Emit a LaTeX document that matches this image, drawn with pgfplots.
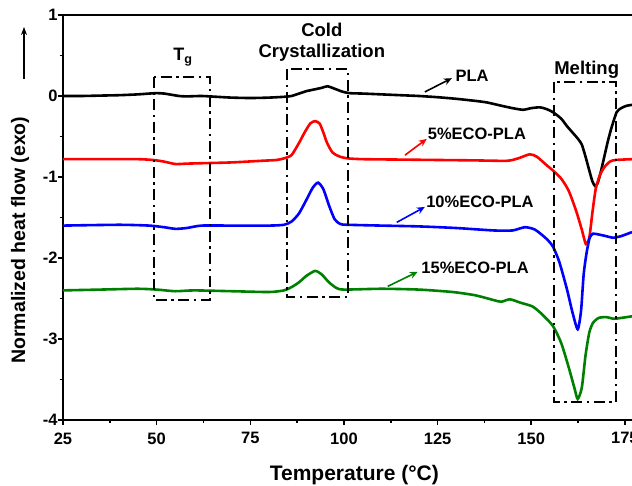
\documentclass[border=0pt]{standalone}
\usepackage{fontspec}
\setmainfont{Liberation Sans}
\usepackage{pgfplots}
\pgfplotsset{compat=1.18}
\usetikzlibrary{arrows.meta}
\definecolor{dgreen}{RGB}{0,128,0}
\begin{document}
\begin{tikzpicture}
\begin{axis}[
  at={(0,0)}, anchor=south west,
  width=569pt, height=405pt, scale only axis,
  xmin=25, xmax=176.9, ymin=-4, ymax=1,
  axis x line*=bottom, axis y line*=left,
  axis line style={line width=1.9pt, -},
  xtick={25,50,...,175}, minor x tick num=1,
  ytick={-4,-3,...,1}, minor y tick num=1,
  tick align=outside,
  major tick length=5pt, minor tick length=3pt,
  every tick/.style={black, line width=1.5pt},
  /pgf/number format/assume math mode=true,
  ticklabel style={font=\fontsize{16.5}{16}\selectfont\bfseries},
  xticklabel style={yshift=-4pt},
  yticklabel style={xshift=3pt},
  xlabel={Temperature (°C)},
  xlabel style={font=\fontsize{21}{21}\selectfont\bfseries, at={(axis description cs:0.512,-0.136)}, anchor=center},
  ylabel={Normalized heat flow (exo)},
  ylabel style={font=\fontsize{19.5}{20}\selectfont\bfseries, at={(axis description cs:-0.0756,0.444)}, anchor=center, rotate=0},
  every axis plot/.append style={line width=2.6pt, smooth, tension=0.4},
  clip=false,
]
% PLA
\addplot[black] coordinates {
(25,0) (30,0) (35,0.005) (40,0.01) (45,0.02) (48,0.03) (50,0.035) (52,0.03) (54,0.015) (56,0.0) (58,-0.005) (62,0) (66,-0.01) (70,-0.02) (75,-0.025) (80,-0.02) (84,-0.01) (86,0.0) (88,0.03) (90,0.06) (92,0.08) (94,0.1) (95.6,0.12) (97.5,0.09) (99.5,0.055) (101.5,0.035) (105,0.03) (110,0.02) (115,0.01) (120,0) (125,-0.015) (130,-0.035) (135,-0.06) (138.2,-0.08) (142,-0.12) (145,-0.15) (147.8,-0.17) (150,-0.15) (152.3,-0.14) (154,-0.16) (155.8,-0.2) (158,-0.28) (159.5,-0.37) (161,-0.45) (162.5,-0.53) (163.5,-0.6) (164.5,-0.75) (165.5,-0.92) (166.3,-1.05) (167,-1.11) (167.7,-1.08) (168.5,-0.95) (169.5,-0.75) (170.5,-0.55) (171.5,-0.38) (172.8,-0.2) (174,-0.15) (175.5,-0.12) (176.9,-0.11)
};
% 5%
\addplot[red] coordinates {
(25,-0.78) (35,-0.78) (45,-0.78) (49,-0.79) (52,-0.81) (55,-0.84) (58,-0.835) (62,-0.83) (70,-0.82) (78,-0.8) (82,-0.79) (84,-0.77) (86,-0.73) (88,-0.58) (89.5,-0.45) (91,-0.34) (92.3,-0.31) (93.5,-0.34) (94.5,-0.45) (95.5,-0.58) (97,-0.7) (99,-0.75) (101,-0.77) (105,-0.78) (115,-0.785) (125,-0.79) (135,-0.795) (143.5,-0.8) (146.5,-0.77) (149.6,-0.72) (151.5,-0.75) (154,-0.85) (155.8,-0.92) (158,-1.02) (160,-1.17) (162,-1.42) (163.5,-1.65) (164.6,-1.83) (165.5,-1.75) (166.3,-1.45) (167.2,-1.15) (168.3,-0.98) (169.5,-0.88) (171,-0.81) (172.5,-0.79) (176.9,-0.78)
};
% 10%
\addplot[blue] coordinates {
(25,-1.6) (40,-1.59) (48,-1.6) (52,-1.62) (55,-1.64) (58,-1.63) (62,-1.6) (70,-1.6) (80,-1.6) (84,-1.59) (86,-1.55) (88,-1.45) (90,-1.28) (91.7,-1.13) (93.1,-1.07) (94.5,-1.15) (96,-1.35) (97.5,-1.52) (99,-1.58) (101,-1.59) (110,-1.6) (120,-1.61) (130,-1.63) (140,-1.66) (145,-1.66) (148.3,-1.62) (151,-1.65) (154,-1.76) (155.8,-1.86) (157.5,-2.05) (159.5,-2.38) (161,-2.67) (162.4,-2.88) (163.3,-2.65) (164,-2.2) (164.8,-1.93) (165.6,-1.75) (166.5,-1.7) (168,-1.71) (170,-1.73) (171.8,-1.75) (174,-1.73) (176.9,-1.68)
};
% 15%
\addplot[dgreen] coordinates {
(25,-2.4) (35,-2.39) (45,-2.38) (50,-2.39) (55,-2.41) (60,-2.4) (70,-2.41) (80,-2.42) (84,-2.4) (86,-2.36) (88,-2.3) (90,-2.22) (92.3,-2.16) (94,-2.2) (96,-2.3) (98,-2.37) (100,-2.39) (110,-2.38) (120,-2.39) (129,-2.42) (135,-2.46) (140,-2.52) (142,-2.54) (144.3,-2.51) (147,-2.55) (150.4,-2.6) (153,-2.7) (155.8,-2.84) (158,-3.05) (160,-3.35) (161.5,-3.6) (162.4,-3.74) (163.5,-3.6) (164.5,-3.2) (165.5,-2.92) (166.5,-2.8) (168,-2.74) (170,-2.73) (172,-2.75) (174,-2.74) (176.9,-2.72)
};
% boxes
\begin{scope}[line width=1.9pt, dash pattern=on 11pt off 4.5pt on 2.5pt off 4.5pt]
\draw (axis cs:49.3,0.235) rectangle (axis cs:64.2,-2.52);
\draw (axis cs:84.8,0.33) rectangle (axis cs:101.1,-2.48);
\draw (axis cs:156,0.17) rectangle (axis cs:172.6,-3.78);
\end{scope}
% top frame line
\draw[line width=1.9pt] (rel axis cs:0,1) -- (rel axis cs:1,1);
% labels
\node[font=\fontsize{18}{18}\selectfont\bfseries] at (axis cs:57,0.48) {T\textsubscript{g}};
\node[font=\fontsize{18.5}{21}\selectfont\bfseries, align=center] at (axis cs:94.1,0.67) {Cold\\Crystallization};
\node[font=\fontsize{18.5}{18}\selectfont\bfseries] at (axis cs:164.8,0.33) {Melting};
\node[font=\fontsize{16.5}{16}\selectfont\bfseries] at (axis cs:134.2,0.25) {PLA};
\node[font=\fontsize{16.5}{16}\selectfont\bfseries] at (axis cs:135.5,-0.47) {5\%ECO-PLA};
\node[font=\fontsize{16.5}{16}\selectfont\bfseries] at (axis cs:136.3,-1.31) {10\%ECO-PLA};
\node[font=\fontsize{16.5}{16}\selectfont\bfseries] at (axis cs:135,-2.12) {15\%ECO-PLA};
\draw[black, line width=1.6pt, -{Stealth[length=8pt,width=7pt]}] (axis cs:121.6,0.05) -- (axis cs:128.8,0.22);
\draw[red, line width=1.6pt, -{Stealth[length=8pt,width=7pt]}] (axis cs:116.3,-0.73) -- (axis cs:122.1,-0.53);
\draw[blue, line width=1.6pt, -{Stealth[length=8pt,width=7pt]}] (axis cs:114.1,-1.56) -- (axis cs:121.6,-1.37);
\draw[dgreen, line width=1.6pt, -{Stealth[length=8pt,width=7pt]}] (axis cs:111.7,-2.35) -- (axis cs:119.7,-2.17);
\end{axis}
\draw[line width=1.5pt, -{Stealth[length=8pt,width=6pt]}] (-39pt,341pt) -- (-39pt,393pt);
\pgfresetboundingbox
\path[use as bounding box] (-63pt,-66pt) rectangle (569pt,420pt);
\end{tikzpicture}
\end{document}
